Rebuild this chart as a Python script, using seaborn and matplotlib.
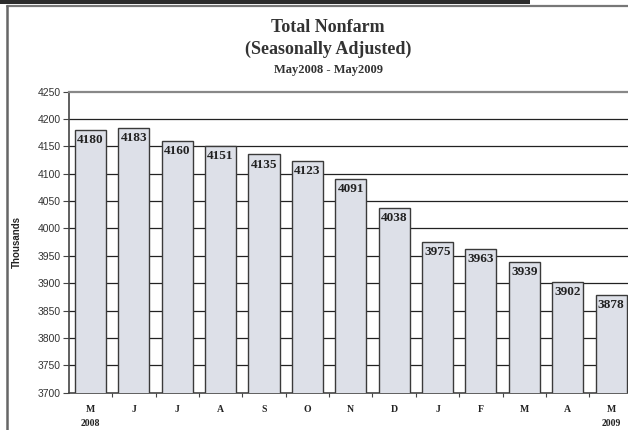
import matplotlib
matplotlib.use("Agg")
import matplotlib.pyplot as plt
import seaborn as sns
import pandas as pd
from matplotlib.patches import Rectangle
from matplotlib.lines import Line2D

months = ["M", "J", "J", "A", "S", "O", "N", "D", "J", "F", "M", "A", "M"]
years = ["2008", "", "", "", "", "", "", "", "", "", "", "", "2009"]
values = [4180, 4183, 4160, 4151, 4135, 4123, 4091, 4038, 3975, 3963, 3939, 3902, 3878]
yticks = [3700, 3750, 3800, 3850, 3900, 3950, 4000, 4050, 4100, 4150, 4200, 4250]

sns.set_theme(style="white")
plt.rcParams['font.family'] = ['Liberation Sans', 'DejaVu Sans']

W, H = 628, 430
fig = plt.figure(figsize=(W / 100, H / 100), dpi=100)

# frame decorations
fig.add_artist(Rectangle((0, 1 - 3.5 / H), 530 / W, 3.5 / H, transform=fig.transFigure,
                         facecolor="#2b2b2b", edgecolor="none"))
fig.add_artist(Line2D([7 / W, 1], [1 - 5.5 / H, 1 - 5.5 / H], transform=fig.transFigure,
                      color="#777777", lw=1.6))
fig.add_artist(Line2D([7 / W, 7 / W], [0, 1 - 5.5 / H], transform=fig.transFigure,
                      color="#666666", lw=1.8))

ax = fig.add_axes([68.8 / W, 37.3 / H, (632.7 - 68.8) / W, (338.5 - 37.3) / H])

df = pd.DataFrame({"idx": list(range(len(values))), "value": values})
sns.barplot(data=df, x="idx", y="value", ax=ax, color="#dde0e8", saturation=1,
            width=0.715, edgecolor="#3a3a3a", linewidth=1.0, zorder=3)

ax.set_ylim(3700, 4250)
ax.set_xlim(-0.5, len(values) - 0.5)
ax.set_yticks(yticks)
ax.set_yticklabels([str(t) for t in yticks], fontsize=7.5, color="#333333")
ax.tick_params(axis="y", length=4, width=0.8, color="#444444", direction="out", left=True, pad=2)

# gridlines behind bars
for t in yticks[1:-1]:
    ax.axhline(t, color="#222222", lw=0.9, zorder=1)

# x ticks at boundaries, labels at centers
ax.set_xticks([i + 0.5 for i in range(len(values) - 1)], minor=False)
ax.set_xticklabels([])
ax.tick_params(axis="x", length=3, width=0.8, color="#444444", direction="out", bottom=True)
for i, (m, yr) in enumerate(zip(months, years)):
    lab = m if not yr else m + "\n" + yr
    ax.annotate(lab, xy=(i, 0), xycoords=("data", "axes fraction"), xytext=(0, -9),
                textcoords="offset points", ha="center", va="top", fontsize=7,
                fontweight="bold", family="Liberation Serif", color="#222222",
                linespacing=1.7)

for i, v in enumerate(values):
    ax.annotate(str(v), xy=(i, v), xytext=(0, -3), textcoords="offset points",
                ha="center", va="top", fontsize=9.5, fontweight="bold",
                family="Liberation Serif", color="#222222", zorder=5)

ax.set_xlabel("")
ax.set_ylabel("Thousands", fontsize=7, color="#222222", labelpad=11, fontweight="bold")

for s in ["left", "bottom"]:
    ax.spines[s].set_color("#444444")
    ax.spines[s].set_linewidth(1.2)
ax.spines["top"].set_color("#888888")
ax.spines["top"].set_linewidth(1.6)
ax.spines["right"].set_visible(False)

fig.text(328 / W, 1 - 28 / H, "Total Nonfarm", ha="center", va="center", fontsize=13,
         fontweight="bold", family="Liberation Serif", color="#333333")
fig.text(328 / W, 1 - 49 / H, "(Seasonally Adjusted)", ha="center", va="center", fontsize=13,
         fontweight="bold", family="Liberation Serif", color="#333333")
fig.text(328 / W, 1 - 70 / H, "May2008 - May2009", ha="center", va="center", fontsize=9,
         fontweight="bold", family="Liberation Serif", color="#333333")

fig.savefig("out.png", dpi=100)
